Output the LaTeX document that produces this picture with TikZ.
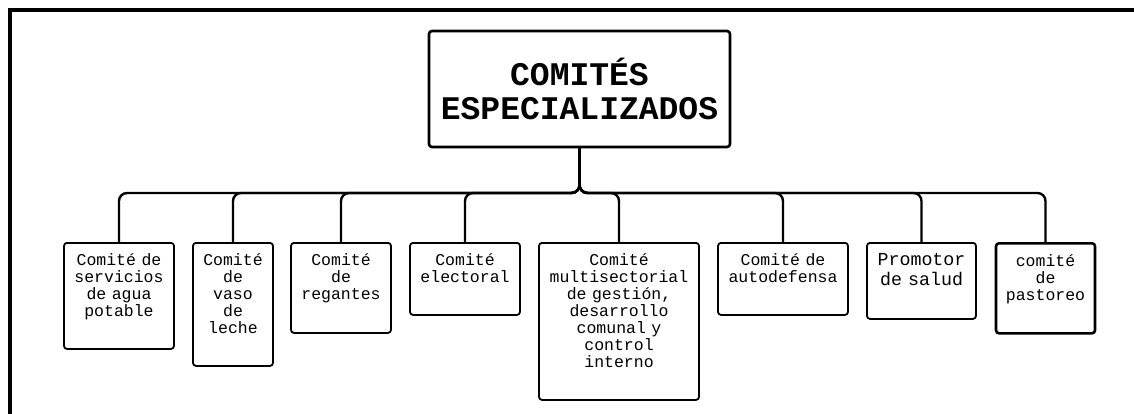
\documentclass[tikz,border=0pt]{standalone}
\usepackage{fontspec}
\setmonofont{Liberation Mono}
\usetikzlibrary{positioning}

\tikzset{
    titlebox/.style={draw, line width=2.6pt, rounded corners=3pt, align=center,
        font=\ttfamily\bfseries\fontsize{33}{34}\selectfont},
    childbox/.style 2 args={draw, line width=1.8pt, rounded corners=3pt, anchor=north,
        align=center, inner xsep=0pt, inner ysep=0pt, text width=#1pt,
        text height=23pt, text depth={#2pt-23pt},
        font=\ttfamily\fontsize{16.5}{17}\selectfont},
    link/.style={line width=2.4pt, rounded corners=8pt},
    frame/.style={line width=3.6pt}
}

\begin{document}
\begin{tikzpicture}[x=1pt, y=-1pt]

    \useasboundingbox (0,0) rectangle (1134,414);

    % --- FRAME (only top and left edges are visible) ---
    \draw[frame] (10,420) -- (10,10) -- (1140,10);

    % --- ROOT ---
    \node[titlebox, minimum width=301pt, minimum height=116pt] (title) at (579.5,89)
        {COMITÉS\\ESPECIALIZADOS};

    % --- COMMITTEES ---
    \node[childbox={110}{106}] (c1) at (119,242) {Comité de\\servicios\\de agua\\potable};
    \node[childbox={80}{123}] (c2) at (233,242) {Comité\\de\\vaso\\de\\leche};
    \node[childbox={100}{90}] (c3) at (341,242) {Comité\\de\\regantes};
    \node[childbox={110}{72}] (c4) at (465,242) {Comité\\electoral};
    \node[childbox={160}{157}] (c5) at (619,242)
        {Comité\\multisectorial\\de gestión,\\desarrollo\\comunal y\\control\\interno};
    \node[childbox={130}{72}] (c6) at (783,242) {Comité de\\autodefensa};
    \node[childbox={109}{76}, font=\ttfamily\fontsize{18.3}{19.3}\selectfont] (c7) at (921.5,242)
        {Promotor\\de salud};
    \node[childbox={99}{90}, line width=2.6pt] (c8) at (1045.5,242) {comité\\de\\pastoreo};

    % --- CONNECTORS ---
    \coordinate (bus) at (0,193);
    \foreach \i in {1,...,8}
        \draw[link] (title.south) -- (title.south |- bus) -| (c\i.north);

\end{tikzpicture}
\end{document}
